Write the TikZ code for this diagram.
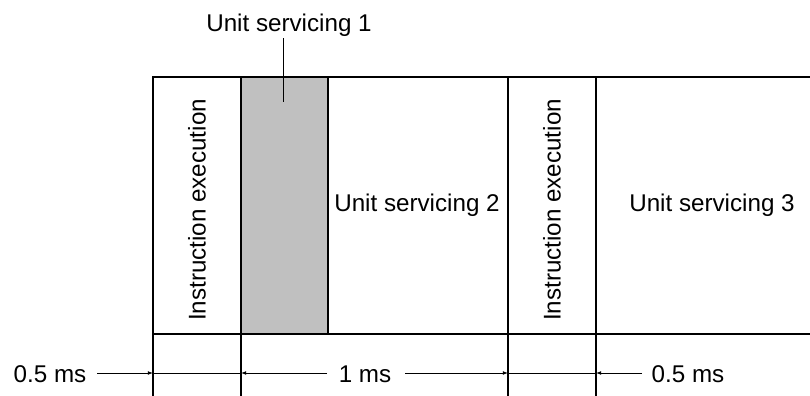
\documentclass[tikz,border=0pt]{standalone}
\usepackage{fontspec}
\setmainfont{Liberation Sans}
\usetikzlibrary{arrows.meta}
\tikzset{
  rule/.style={line width=0.65pt, line cap=rect},
  lbl/.style={inner sep=0pt, font=\fontsize{12.1}{14}\selectfont},
  rlbl/.style={lbl, rotate=90},
  dimtip/.style={line width=0.5pt, -{Latex[length=2.6pt,width=2pt]}},
  dimline/.style={line width=0.5pt},
}
\begin{document}
\begin{tikzpicture}[x=0.5pt,y=-0.5pt]
\useasboundingbox (0,0) rectangle (810,396);
% grey column
\fill[fill={rgb,255:red,192;green,192;blue,192}] (241,77) rectangle (328,334);
% frame
\coordinate (tl) at (153,77);
\coordinate (tr) at (812,77);
\coordinate (bl) at (153,334);
\coordinate (br) at (812,334);
\draw[rule] (tl) -- (tr);
\draw[rule] (bl) -- (br);
\coordinate (v1t) at (153,77);  \coordinate (v1b) at (153,397);
\coordinate (v2t) at (241,77);  \coordinate (v2b) at (241,397);
\coordinate (v3t) at (328,77);  \coordinate (v3b) at (328,334);
\coordinate (v4t) at (508,77);  \coordinate (v4b) at (508,397);
\coordinate (v5t) at (596,77);  \coordinate (v5b) at (596,397);
\draw[rule] (v1t) -- (v1b);
\draw[rule] (v2t) -- (v2b);
\draw[rule] (v3t) -- (v3b);
\draw[rule] (v4t) -- (v4b);
\draw[rule] (v5t) -- (v5b);
% texts in columns
\node[rlbl] (ie1) at (197,210) {Instruction execution};
\node[rlbl] (ie2) at (552,210) {Instruction execution};
\node[lbl] (us2) at (417,205) {Unit servicing 2};
\node[lbl] (us3) at (712,205) {Unit servicing 3};
% top label with leader
\node[lbl, anchor=base] (us1) at (289,32) {Unit servicing 1};
\coordinate (lead) at (283,102);
\draw[line width=0.5pt] (283,38) -- (lead);
% dimension line
\node[lbl, anchor=base] (d1) at (50,382) {0.5 ms};
\node[lbl, anchor=base] (d2) at (365,382) {1 ms};
\node[lbl, anchor=base] (d3) at (688,382) {0.5 ms};
\coordinate (a1s) at (97,373);  \coordinate (a1e) at (153,373);
\coordinate (a2e) at (241,373); \coordinate (a2s) at (327,373);
\coordinate (a3s) at (405,373); \coordinate (a3e) at (508,373);
\coordinate (a4e) at (596,373); \coordinate (a4s) at (642,373);
\draw[dimtip] (a1s) -- (a1e);
\draw[dimline] (a1e) -- (a2e);
\draw[dimtip] (a2s) -- (a2e);
\draw[dimtip] (a3s) -- (a3e);
\draw[dimline] (a3e) -- (a4e);
\draw[dimtip] (a4s) -- (a4e);
\end{tikzpicture}
\end{document}
